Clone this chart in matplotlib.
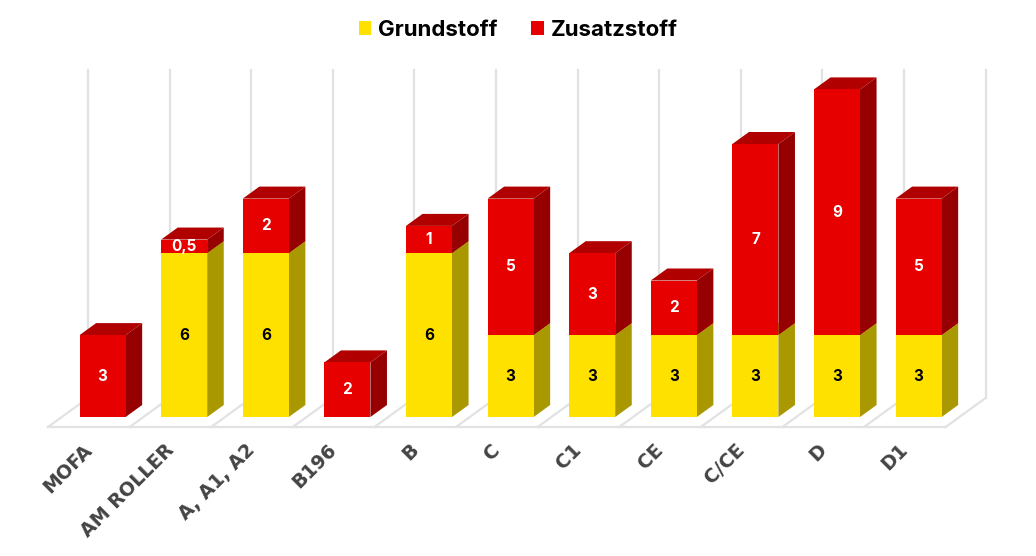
import matplotlib.pyplot as plt
from matplotlib.patches import Polygon

categories = ["MOFA", "AM ROLLER", "A, A1, A2", "B196", "B", "C",
              "C1", "CE", "C/CE", "D", "D1"]
grundstoff = [0, 6, 6, 0, 6, 3, 3, 3, 3, 3, 3]
zusatzstoff = [3, 0.5, 2, 2, 1, 5, 3, 2, 7, 9, 5]
series_names = ["Grundstoff", "Zusatzstoff"]

# colours: front, side, top
yellow = ("#FFE100", "#A99800", "#C8B400")
red = ("#E60000", "#960000", "#B00000")

# fake 3d geometry (data units)
DX, DY = 0.49, 1.062      # full floor depth
D0, D1 = 0.345, 0.759     # depth range of the bars
HALF_W = 0.282
YMAX = 12


def pt(x, y, d):
    return (x + d * DX, y + (d - D0) * DY)


fig = plt.figure(figsize=(10.36, 5.56), dpi=100)
ax = fig.add_axes([0, 0, 1, 1])
ax.set_xlim(-88.8 / 81.6, (1036 - 88.8) / 81.6)
ax.set_ylim(-(556 - 417) / 27.3, 417 / 27.3)
ax.axis("off")

grid = "#e2e2e2"
n = len(categories)
# back wall lines + floor
for k in range(n + 1):
    xb = k - 0.5
    p0 = pt(xb, 0, 1)
    p1 = pt(xb, YMAX, 1)
    ax.plot([p0[0], p1[0]], [p0[1], p1[1]], color=grid, lw=1.6, zorder=1)
    f0 = pt(xb, 0, 0)
    ax.plot([f0[0], p0[0]], [f0[1], p0[1]], color=grid, lw=1.6, zorder=1)
fl = pt(-0.5, 0, 0)
fr = pt(n - 0.5, 0, 0)
ax.plot([fl[0], fr[0]], [fl[1], fr[1]], color=grid, lw=1.6, zorder=1)


def draw_segment(i, bottom, h, cols, label=None):
    xl, xr = i - HALF_W, i + HALF_W
    top = bottom + h
    front = [pt(xl, bottom, D0), pt(xr, bottom, D0), pt(xr, top, D0), pt(xl, top, D0)]
    side = [pt(xr, bottom, D0), pt(xr, bottom, D1), pt(xr, top, D1), pt(xr, top, D0)]
    topf = [pt(xl, top, D0), pt(xr, top, D0), pt(xr, top, D1), pt(xl, top, D1)]
    ax.add_patch(Polygon(side, closed=True, fc=cols[1], ec="none", zorder=3))
    ax.add_patch(Polygon(front, closed=True, fc=cols[0], ec="none", zorder=4, label=label))
    ax.add_patch(Polygon(topf, closed=True, fc=cols[2], ec="none", zorder=3))


def fmt(v):
    return ("%g" % v).replace(".", ",")


first = [True, True]
for i in range(n):
    g = grundstoff[i]
    z = zusatzstoff[i]
    cx = pt(i, 0, D0)[0]
    if g > 0:
        draw_segment(i, 0, g, yellow, series_names[0] if first[0] else None)
        first[0] = False
        ax.text(cx, g / 2, fmt(g), ha="center", va="center", color="black",
                fontsize=11, fontweight="bold", family="Inter", zorder=5)
    if z > 0:
        draw_segment(i, g, z, red, series_names[1] if first[1] else None)
        first[1] = False
        ax.text(cx, g + z / 2, fmt(z), ha="center", va="center", color="white",
                fontsize=11, fontweight="bold", family="Inter", zorder=5)
    # category label
    ax.text(i - 0.08, -0.85, categories[i], rotation=45, rotation_mode="anchor",
            ha="right", va="top", color="#444444", fontsize=13.7,
            fontweight="bold", family="DejaVu Sans")

handles, labels = ax.get_legend_handles_labels()
order = [labels.index(s) for s in series_names]
leg = fig.legend([handles[j] for j in order], series_names, loc="upper center",
                 bbox_to_anchor=(0.5, 1.0), ncol=2, frameon=False,
                 handlelength=0.55, handleheight=0.55, handletextpad=0.3,
                 columnspacing=1.55, prop={"family": "Inter", "weight": "bold", "size": 16})

fig.savefig("out.png", dpi=100)
